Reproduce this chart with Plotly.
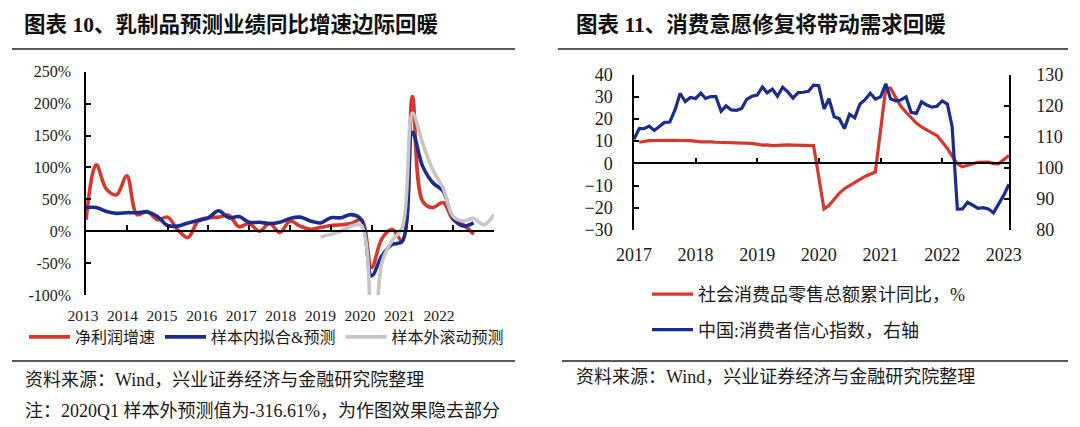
import plotly.graph_objects as go

# ---------------- Left chart data (quarterly) ----------------
quarters = [f"{y}Q{q}" for y in range(2013, 2024) for q in range(1, 5)][:41]  # 2013Q1..2023Q1
year_labels_left = [str(y) for y in range(2013, 2023)]

profit_q = quarters[0:39]
profit_growth = [18, 104, 66, 57, 87, 26, 31, 18, 22, 2, -10, 16, 21, 22, 25, 7, 12, 0, 12, -2,
                 16, 8, 3, 6, 9, 10, 12, 18, -57, -12, 3, -15, 211, 47, 37, 45, 18, 10, -5]

fit_q = quarters[0:39]
fit_forecast = [37, 37, 31, 28, 29, 29, 30, 23, 9, 8, 13, 17, 21, 32, 21, 23, 14, 14, 12, 14,
                20, 22, 16, 13, 21, 21, 26, 18, -70, -39, -21, -16, 155, 102, 76, 63, 20, 8, 13]

oos_q = quarters[23:41]
oos_forecast = [-9, -5, 0, 8, 9, -316.61, -50, -15, 5, 185, 138, 96, 68, 23, 16, 20, 10, 26]

left_ticks = [-100, -50, 0, 50, 100, 150, 200, 250]

# ---------------- Right chart data (monthly) ----------------
retail_months = [f"{y}-{m:02d}-01" for y in range(2017, 2023) for m in range(2, 13)] + ["2023-02-01"]
retail_yoy = [9.5, 10.0, 10.2, 10.3, 10.4, 10.4, 10.4, 10.4, 10.3, 10.3, 10.2,
              9.7, 9.8, 9.7, 9.5, 9.4, 9.3, 9.3, 9.3, 9.2, 9.1, 9.0,
              8.2, 8.3, 8.0, 8.1, 8.4, 8.3, 8.2, 8.2, 8.1, 8.0, 8.0,
              -20.5, -19.0, -16.2, -13.5, -11.4, -9.9, -8.6, -7.2, -5.9, -4.8, -3.9,
              33.8, 33.9, 29.6, 25.7, 23.0, 20.7, 18.1, 16.4, 14.9, 13.7, 12.5,
              6.7, 3.3, -0.2, -1.5, -0.7, -0.2, 0.5, 0.7, 0.6, -0.1, -0.2,
              3.5]

conf_months = [f"{y}-{m:02d}-01" for y in range(2017, 2023) for m in range(1, 13)] + ["2023-01-01", "2023-02-01"]
consumer_conf = [109.2, 112.6, 112.6, 113.4, 112.0, 113.2, 114.6, 114.7, 118.6, 123.9, 121.3, 122.6,
                 122.3, 124.0, 122.3, 122.9, 122.9, 118.2, 119.9, 118.6, 118.5, 119.1, 122.1, 123.0,
                 123.4, 126.0, 124.1, 125.3, 123.0, 125.9, 124.4, 122.4, 124.2, 124.3, 124.6, 126.6,
                 126.4, 118.9, 122.2, 116.4, 115.8, 112.6, 117.2, 116.1, 120.5, 121.9, 124.0, 122.1,
                 122.8, 127.0, 122.2, 121.5, 121.8, 122.8, 117.8, 117.5, 121.2, 120.2, 119.5, 119.8,
                 121.5, 120.5, 113.2, 86.7, 86.8, 88.9, 87.9, 87.0, 87.2, 86.8, 85.5, 88.3,
                 91.2, 94.7]
year_labels_right = [str(y) for y in range(2017, 2024)]

# ---------------- Styling ----------------
W, H = 1080, 427
OFF = 8  # page body margin of the rendered html
RED = "#D7382D"
BLUE = "#1B2C8C"
GREY = "#C6C6C6"
SERIF = "Liberation Serif, Times New Roman, Noto Sans CJK SC"
CJK = "Liberation Serif, Noto Sans CJK SC"
INK = "#1a1a1a"

def px_x(p):
    return (p - OFF) / W

def px_y(p):
    return 1 - (p - OFF) / H

qidx = {q: i for i, q in enumerate(quarters)}

fig = go.Figure()

fig.add_trace(go.Scatter(x=[qidx[q] for q in profit_q], y=profit_growth, name="净利润增速",
                         mode="lines", line=dict(color=RED, width=3.6, shape="spline", smoothing=1.0),
                         xaxis="x", yaxis="y", legend="legend"))
fig.add_trace(go.Scatter(x=[qidx[q] for q in fit_q], y=fit_forecast, name="样本内拟合&预测",
                         mode="lines", line=dict(color=BLUE, width=3.6, shape="spline", smoothing=1.0),
                         xaxis="x", yaxis="y", legend="legend"))
fig.add_trace(go.Scatter(x=[qidx[q] for q in oos_q], y=oos_forecast, name="样本外滚动预测",
                         mode="lines", line=dict(color=GREY, width=3.6, shape="spline", smoothing=1.0),
                         xaxis="x", yaxis="y", legend="legend"))
# empty helper traces so the auxiliary axes get drawn
fig.add_trace(go.Scatter(x=[None], y=[None], xaxis="x3", yaxis="y", showlegend=False, hoverinfo="skip"))
fig.add_trace(go.Scatter(x=[None], y=[None], xaxis="x5", yaxis="y", showlegend=False, hoverinfo="skip"))

fig.add_trace(go.Scatter(x=retail_months, y=retail_yoy, name="社会消费品零售总额累计同比，%",
                         mode="lines", line=dict(color=RED, width=3.2),
                         xaxis="x2", yaxis="y2", legend="legend2", legendgroup="a"))
fig.add_trace(go.Scatter(x=conf_months, y=consumer_conf, name="中国:消费者信心指数，右轴",
                         mode="lines", line=dict(color=BLUE, width=3.2),
                         xaxis="x2", yaxis="y3", legend="legend2", legendgroup="b"))
fig.add_trace(go.Scatter(x=[None], y=[None], xaxis="x4", yaxis="y2", showlegend=False, hoverinfo="skip"))

# geometry
L_px0, L_px1 = 86, 494
L_dom_x = [px_x(L_px0), px_x(L_px1)]
L_dom_y = [px_y(295), px_y(71.7)]
R_dom_x = [px_x(634), px_x(1009)]
R_dom_y = [px_y(230), px_y(74.5)]
L_range = [-100, 250]
R_range = [-30, 40]
L_zero = L_dom_y[0] + (L_dom_y[1] - L_dom_y[0]) * (0 - L_range[0]) / (L_range[1] - L_range[0])
R_zero = R_dom_y[0] + (R_dom_y[1] - R_dom_y[0]) * (0 - R_range[0]) / (R_range[1] - R_range[0])

# label axis for the left chart: same scale as the data axis, extended a little to the left
q_px = (L_px1 - L_px0) / 40.0
lab_px0 = 50
lab_range = [-(L_px0 - lab_px0) / q_px, 40]
label_pos_left = [-0.3 + 3.88 * i for i in range(len(year_labels_left))]

axis_common = dict(showgrid=False, zeroline=False, linecolor="black", linewidth=1.5,
                   tickcolor="black", tickwidth=1.5, automargin=False)

fig.update_layout(
    width=W, height=H, margin=dict(l=0, r=0, t=0, b=0, autoexpand=False),
    paper_bgcolor="white", plot_bgcolor="rgba(0,0,0,0)",
    showlegend=True,
    xaxis=dict(domain=L_dom_x, range=[0, 40], anchor="y", showline=False, ticks="",
               showticklabels=False, showgrid=False, zeroline=False, automargin=False),
    xaxis5=dict(domain=[px_x(lab_px0), px_x(L_px1)], range=lab_range, anchor="free",
                position=L_dom_y[0], showline=False, ticks="", showgrid=False, zeroline=False,
                tickvals=label_pos_left, ticktext=year_labels_left, automargin=False,
                tickfont=dict(family=SERIF, size=15.5, color=INK), ticklabelstandoff=9),
    xaxis3=dict(domain=L_dom_x, range=[0, 40], overlaying="x", anchor="free", position=L_zero,
                side="bottom", showline=True, ticks="inside", ticklen=5,
                tickvals=list(range(4, 40, 4)), showticklabels=False, **axis_common),
    yaxis=dict(domain=L_dom_y, range=L_range, anchor="x", showline=True, ticks="inside", ticklen=5,
               tickvals=left_ticks, ticktext=[f"{v}%" for v in left_ticks],
               tickfont=dict(family=SERIF, size=16, color=INK), ticklabelstandoff=10, **axis_common),
    xaxis2=dict(domain=R_dom_x, type="date", range=["2017-01-01", "2023-02-01"], anchor="y2",
                showline=False, ticks="", showgrid=False, zeroline=False, automargin=False,
                tickvals=[f"{y}-01-01" for y in year_labels_right], ticktext=year_labels_right,
                tickfont=dict(family=SERIF, size=18, color=INK), ticklabelstandoff=12),
    xaxis4=dict(domain=R_dom_x, type="date", range=["2017-01-01", "2023-02-01"], overlaying="x2",
                anchor="free", position=R_zero, side="bottom", showline=True, ticks="inside", ticklen=5,
                tickvals=[f"{y}-01-01" for y in range(2018, 2023)], showticklabels=False, **axis_common),
    yaxis2=dict(domain=R_dom_y, range=R_range, anchor="x2", showline=True, ticks="inside", ticklen=5,
                dtick=10, tick0=0, tickfont=dict(family=SERIF, size=18, color=INK),
                ticklabelstandoff=16, **axis_common),
    yaxis3=dict(domain=R_dom_y, range=[80, 130], anchor="x2", overlaying="y2", side="right",
                showline=True, ticks="inside", ticklen=5, dtick=10, tick0=80,
                tickfont=dict(family=SERIF, size=18, color=INK), ticklabelstandoff=22, **axis_common),
    legend=dict(orientation="h", x=px_x(24), y=px_y(337), xanchor="left", yanchor="middle",
                font=dict(family=CJK, size=16, color=INK), bgcolor="rgba(0,0,0,0)",
                itemwidth=41, itemclick=False, itemdoubleclick=False),
    legend2=dict(orientation="v", x=px_x(647), y=px_y(276), xanchor="left", yanchor="top",
                 font=dict(family=CJK, size=18, color=INK), bgcolor="rgba(0,0,0,0)",
                 traceorder="grouped", tracegroupgap=9, itemwidth=41,
                 itemclick=False, itemdoubleclick=False),
)

# titles
fig.add_annotation(text="<b>图表 10、乳制品预测业绩同比增速边际回暖</b>", x=px_x(22), y=px_y(25),
                   xref="paper", yref="paper", xanchor="left", yanchor="middle", showarrow=False,
                   font=dict(family=CJK, size=21.5, color="#111"))
fig.add_annotation(text="<b>图表 11、消费意愿修复将带动需求回暖</b>", x=px_x(574), y=px_y(25),
                   xref="paper", yref="paper", xanchor="left", yanchor="middle", showarrow=False,
                   font=dict(family=CJK, size=21.5, color="#111"))

# source notes
fig.add_annotation(text="资料来源：Wind，兴业证券经济与金融研究院整理", x=px_x(23), y=px_y(380),
                   xref="paper", yref="paper", xanchor="left", yanchor="middle", showarrow=False,
                   font=dict(family=CJK, size=18, color=INK))
fig.add_annotation(text="注：2020Q1 样本外预测值为-316.61%，为作图效果隐去部分", x=px_x(23), y=px_y(411),
                   xref="paper", yref="paper", xanchor="left", yanchor="middle", showarrow=False,
                   font=dict(family=CJK, size=18, color=INK))
fig.add_annotation(text="资料来源：Wind，兴业证券经济与金融研究院整理", x=px_x(574), y=px_y(377),
                   xref="paper", yref="paper", xanchor="left", yanchor="middle", showarrow=False,
                   font=dict(family=CJK, size=18, color=INK))

# rules
for x0, x1, y in [(12, 515, 49), (558, 1068, 49), (12, 515, 361), (562, 1068, 361)]:
    fig.add_shape(type="line", xref="paper", yref="paper", x0=px_x(x0), x1=px_x(x1),
                  y0=px_y(y), y1=px_y(y), line=dict(color="#222", width=1.5))

fig.write_html("out.html")
